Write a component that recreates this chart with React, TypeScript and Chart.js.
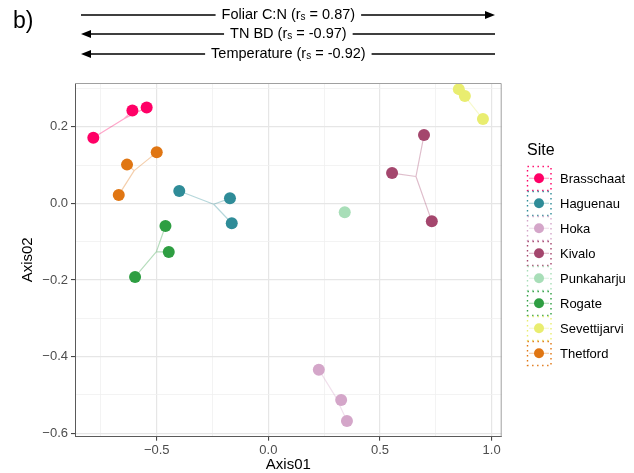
import { useEffect, useRef } from 'react';
import { Chart, registerables } from 'chart.js';

Chart.register(...registerables);

const FONT = "'Liberation Sans', Arial, Helvetica, sans-serif";

// ---- Data ----
const sites = ['Brasschaat', 'Haguenau', 'Hoka', 'Kivalo', 'Punkaharju', 'Rogate', 'Sevettijarvi', 'Thetford'];
const siteColors = ['#FF0066', '#2F8C98', '#D4A6C9', '#A4466D', '#A8DEB8', '#2E9E42', '#E9ED70', '#E07613'];

const brasschaatX = [-0.784, -0.609, -0.545];
const brasschaatY = [0.171, 0.242, 0.25];
const haguenauX = [-0.399, -0.172, -0.164];
const haguenauY = [0.032, 0.013, -0.052];
const hokaX = [0.226, 0.326, 0.352];
const hokaY = [-0.434, -0.513, -0.568];
const kivaloX = [0.697, 0.554, 0.732];
const kivaloY = [0.178, 0.079, -0.047];
const punkaharjuX = [0.342];
const punkaharjuY = [-0.023];
const rogateX = [-0.461, -0.446, -0.597];
const rogateY = [-0.059, -0.127, -0.192];
const sevettijarviX = [0.853, 0.88, 0.961];
const sevettijarviY = [0.298, 0.28, 0.22];
const thetfordX = [-0.5, -0.633, -0.67];
const thetfordY = [0.133, 0.101, 0.022];

const siteX = [brasschaatX, haguenauX, hokaX, kivaloX, punkaharjuX, rogateX, sevettijarviX, thetfordX];
const siteY = [brasschaatY, haguenauY, hokaY, kivaloY, punkaharjuY, rogateY, sevettijarviY, thetfordY];

const xTickValues = [-0.75, -0.5, -0.25, 0, 0.25, 0.5, 0.75, 1.0];
const xMajorTicks = [-0.5, 0, 0.5, 1.0];
const yTickValues = [0.3, 0.2, 0.1, 0, -0.1, -0.2, -0.3, -0.4, -0.5, -0.6];
const yMajorTicks = [0.2, 0, -0.2, -0.4, -0.6];
const xRange = [-0.866, 1.045];
const yRange = [-0.609, 0.314];

const gradientNames = ['Foliar C:N', 'TN BD', 'Temperature'];
const gradientRs = ['0.87', '-0.97', '-0.92'];

const panelLabel = 'b)';
const xTitle = 'Axis01';
const yTitle = 'Axis02';
const legendTitle = 'Site';

// ---- helpers ----
const isIn = (arr: number[], v: number) => arr.some((a) => Math.abs(a - v) < 1e-9);
const fmt = (v: number) => {
  const s = Math.abs(v).toFixed(1);
  return v < -1e-9 ? '\u2212' + s : s;
};
const rgba = (hex: string, a: number) => {
  const n = parseInt(hex.slice(1), 16);
  return `rgba(${(n >> 16) & 255},${(n >> 8) & 255},${n & 255},${a})`;
};
const mean = (a: number[]) => a.reduce((s, v) => s + v, 0) / a.length;

function drawArrowHead(ctx: CanvasRenderingContext2D, x: number, y: number, dir: number) {
  ctx.beginPath();
  ctx.moveTo(x, y);
  ctx.lineTo(x - dir * 10, y - 4);
  ctx.lineTo(x - dir * 10, y + 4);
  ctx.closePath();
  ctx.fill();
}

const overlayPlugin = {
  id: 'overlay',
  afterDraw(chart: any) {
    const ctx: CanvasRenderingContext2D = chart.ctx;
    const a = chart.chartArea;
    ctx.save();

    // panel border top & right
    ctx.strokeStyle = '#A0A0A0';
    ctx.lineWidth = 1;
    ctx.beginPath();
    ctx.moveTo(a.left, a.top + 0.5);
    ctx.lineTo(a.right - 0.5, a.top + 0.5);
    ctx.lineTo(a.right - 0.5, a.bottom);
    ctx.stroke();

    // panel label
    ctx.fillStyle = '#000';
    ctx.font = `23px ${FONT}`;
    ctx.textBaseline = 'middle';
    ctx.textAlign = 'left';
    ctx.fillText(panelLabel, 13, 22);

    // axis titles
    ctx.font = `15px ${FONT}`;
    ctx.textAlign = 'center';
    ctx.fillStyle = '#000';
    ctx.fillText(xTitle, (a.left + a.right) / 2, 465);
    ctx.save();
    ctx.translate(28, (a.top + a.bottom) / 2);
    ctx.rotate(-Math.PI / 2);
    ctx.fillText(yTitle, 0, 0);
    ctx.restore();

    // gradient arrows
    const arrowL = 81;
    const arrowR = 495;
    const cx = (a.left + a.right) / 2;
    const rows = [15, 34, 54];
    const mainSize = 14.5;
    const subSize = 10;
    gradientNames.forEach((name, i) => {
      const y = rows[i];
      const pre = `${name} (r`;
      const sub = 's';
      const post = ` = ${gradientRs[i]})`;
      ctx.font = `${mainSize}px ${FONT}`;
      const wPre = ctx.measureText(pre).width;
      const wPost = ctx.measureText(post).width;
      ctx.font = `${subSize}px ${FONT}`;
      const wSub = ctx.measureText(sub).width;
      const total = wPre + wSub + wPost;
      const tx = cx - total / 2;
      ctx.textAlign = 'left';
      ctx.textBaseline = 'middle';
      ctx.fillStyle = '#000';
      ctx.font = `${mainSize}px ${FONT}`;
      ctx.fillText(pre, tx, y);
      ctx.font = `${subSize}px ${FONT}`;
      ctx.fillText(sub, tx + wPre, y + 2);
      ctx.font = `${mainSize}px ${FONT}`;
      ctx.fillText(post, tx + wPre + wSub, y);

      const dir = parseFloat(gradientRs[i]) >= 0 ? 1 : -1;
      const gap = 6;
      ctx.strokeStyle = '#000';
      ctx.lineWidth = 1.4;
      ctx.beginPath();
      ctx.moveTo(arrowL + (dir < 0 ? 5 : 0), y);
      ctx.lineTo(tx - gap, y);
      ctx.moveTo(tx + total + gap, y);
      ctx.lineTo(arrowR - (dir > 0 ? 5 : 0), y);
      ctx.stroke();
      ctx.fillStyle = '#000';
      if (dir > 0) drawArrowHead(ctx, arrowR, y, 1);
      else drawArrowHead(ctx, arrowL, y, -1);
    });

    // legend
    const lx = 527;
    ctx.textAlign = 'left';
    ctx.textBaseline = 'middle';
    ctx.fillStyle = '#000';
    ctx.font = `16px ${FONT}`;
    ctx.fillText(legendTitle, lx, 151);
    sites.forEach((s, i) => {
      const cy = 178.3 + 25 * i;
      const col = siteColors[i];
      // dotted key frame
      ctx.save();
      ctx.setLineDash([1.4, 3.6]);
      ctx.lineWidth = 1.4;
      ctx.strokeStyle = col;
      ctx.strokeRect(lx + 0.5, cy - 11.8, 23.5, 24);
      ctx.restore();
      // line
      ctx.strokeStyle = rgba(col, 0.35);
      ctx.lineWidth = 1.2;
      ctx.beginPath();
      ctx.moveTo(lx + 2, cy);
      ctx.lineTo(lx + 22, cy);
      ctx.stroke();
      // point
      ctx.fillStyle = col;
      ctx.beginPath();
      ctx.arc(lx + 12, cy, 5, 0, Math.PI * 2);
      ctx.fill();
      // label
      ctx.fillStyle = '#000';
      ctx.font = `13px ${FONT}`;
      ctx.fillText(s, 560, cy + 1);
    });

    ctx.restore();
  },
};

export default function App() {
  const ref = useRef<HTMLCanvasElement | null>(null);

  useEffect(() => {
    if (!ref.current) return;
    const datasets: any[] = [];
    sites.forEach((s, i) => {
      const xs = siteX[i];
      const ys = siteY[i];
      const col = siteColors[i];
      if (xs.length > 1) {
        const cx = mean(xs);
        const cy = mean(ys);
        const spokes: { x: number; y: number }[] = [];
        xs.forEach((x, j) => {
          spokes.push({ x: cx, y: cy });
          spokes.push({ x, y: ys[j] });
        });
        datasets.push({
          label: s + ' spokes',
          data: spokes,
          showLine: true,
          borderColor: rgba(col, 0.35),
          borderWidth: 1.2,
          borderJoinStyle: 'round',
          pointRadius: 0,
          pointHoverRadius: 0,
          order: 2,
        });
      }
      datasets.push({
        label: s,
        data: xs.map((x, j) => ({ x, y: ys[j] })),
        showLine: false,
        pointRadius: 6,
        pointHoverRadius: 6,
        backgroundColor: col,
        borderWidth: 0,
        order: 1,
      });
    });

    const tickFont = { family: FONT, size: 13 };
    const chart = new Chart(ref.current, {
      type: 'scatter',
      data: { datasets },
      plugins: [overlayPlugin],
      options: {
        animation: false,
        responsive: false,
        devicePixelRatio: 1,
        events: [],
        layout: { padding: { left: 0, top: 83, right: 132.3, bottom: 0 } },
        plugins: { legend: { display: false }, tooltip: { enabled: false } },
        scales: {
          x: {
            type: 'linear',
            min: xRange[0],
            max: xRange[1],
            afterBuildTicks: (sc: any) => {
              sc.ticks = xTickValues.map((v) => ({ value: v }));
            },
            afterFit: (sc: any) => {
              sc.height = 36.3;
            },
            ticks: {
              autoSkip: false,
              maxRotation: 0,
              padding: 2,
              color: '#4D4D4D',
              font: tickFont,
              callback: (v: any) => (isIn(xMajorTicks, Number(v)) ? fmt(Number(v)) : ''),
            },
            grid: {
              color: (c: any) => (isIn(xMajorTicks, c.tick?.value) ? '#E6E6E6' : '#F0F0F0'),
              lineWidth: (c: any) => (isIn(xMajorTicks, c.tick?.value) ? 1.2 : 0.8),
              tickColor: (c: any) => (isIn(xMajorTicks, c.tick?.value) ? '#333333' : 'rgba(0,0,0,0)'),
              tickLength: 4,
              tickWidth: 1,
            },
            border: { display: true, color: '#5A5A5A', width: 1 },
          },
          y: {
            type: 'linear',
            min: yRange[0],
            max: yRange[1],
            afterBuildTicks: (sc: any) => {
              sc.ticks = yTickValues.map((v) => ({ value: v }));
            },
            afterFit: (sc: any) => {
              sc.width = 75;
            },
            ticks: {
              autoSkip: false,
              padding: 3,
              color: '#4D4D4D',
              font: tickFont,
              callback: (v: any) => (isIn(yMajorTicks, Number(v)) ? fmt(Number(v)) : ''),
            },
            grid: {
              color: (c: any) => (isIn(yMajorTicks, c.tick?.value) ? '#E6E6E6' : '#F0F0F0'),
              lineWidth: (c: any) => (isIn(yMajorTicks, c.tick?.value) ? 1.2 : 0.8),
              tickColor: (c: any) => (isIn(yMajorTicks, c.tick?.value) ? '#333333' : 'rgba(0,0,0,0)'),
              tickLength: 4,
              tickWidth: 1,
            },
            border: { display: true, color: '#5A5A5A', width: 1 },
          },
        },
      } as any,
    });
    return () => chart.destroy();
  }, []);

  return (
    <div style={{ position: 'absolute', left: 0, top: 0, width: 634, height: 473, background: '#fff' }}>
      <canvas ref={ref} width={634} height={473} style={{ display: 'block' }} />
    </div>
  );
}
